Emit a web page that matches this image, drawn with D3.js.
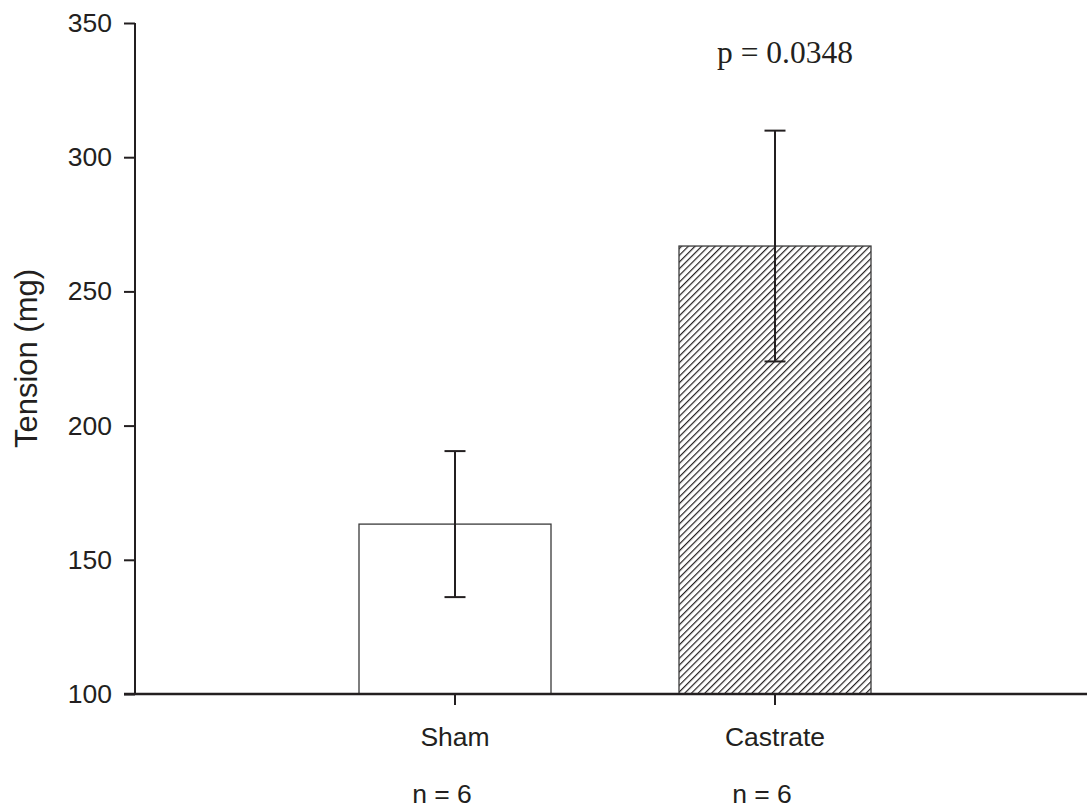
<!DOCTYPE html>
<html>
<head>
<meta charset="utf-8">
<script src="https://cdn.jsdelivr.net/npm/d3@7"></script>
<style>
html,body{margin:0;padding:0;background:#fff;}
svg{display:block;}
</style>
</head>
<body>
<svg id="chart" width="1089" height="811"></svg>
<script>
const categories = ["Sham", "Castrate"];
const means = [163.3, 266.9];
const sems = [27.2, 43.0];
const nLabels = ["n = 6", "n = 6"];
const yTicks = [100, 150, 200, 250, 300, 350];
const pText = "p = 0.0348";

const svg = d3.select("#chart");
const ink = "#231f20";

const x = d3.scaleBand().domain(categories).range([135, 1095]).paddingInner(0.4).paddingOuter(0.7);
const y = d3.scaleLinear().domain([100, 350]).range([694, 23]);

const defs = svg.append("defs");
const sp = 4.75;
const pat = defs.append("pattern").attr("id", "hatch").attr("patternUnits", "userSpaceOnUse")
  .attr("width", sp).attr("height", sp).attr("patternTransform", "rotate(45)");
pat.append("line").attr("x1", 0.6).attr("y1", 0).attr("x2", 0.6).attr("y2", sp)
  .attr("stroke", ink).attr("stroke-width", 1.2);

const fills = ["#fff", "url(#hatch)"];

// bars
svg.selectAll("rect.bar").data(categories).enter().append("rect")
  .attr("class", "bar")
  .attr("x", d => x(d))
  .attr("width", x.bandwidth())
  .attr("y", (d, i) => y(means[i]))
  .attr("height", (d, i) => y(100) - y(means[i]))
  .attr("fill", (d, i) => fills[i])
  .attr("stroke", "#3a3a3a").attr("stroke-width", 1.3);

// error bars
const eb = svg.append("g").attr("stroke", ink).attr("stroke-width", 2).attr("fill", "none");
categories.forEach((c, i) => {
  const cx = x(c) + x.bandwidth() / 2;
  eb.append("line").attr("x1", cx).attr("x2", cx).attr("y1", y(means[i] + sems[i])).attr("y2", y(means[i] - sems[i]));
  eb.append("line").attr("x1", cx - 10.5).attr("x2", cx + 10.5).attr("y1", y(means[i] + sems[i])).attr("y2", y(means[i] + sems[i]));
  eb.append("line").attr("x1", cx - 10.5).attr("x2", cx + 10.5).attr("y1", y(means[i] - sems[i])).attr("y2", y(means[i] - sems[i]));
});

// y axis
const yAxis = svg.append("g").attr("transform", "translate(135,0)")
  .call(d3.axisLeft(y).tickValues(yTicks).tickSize(11).tickPadding(12).tickFormat(d3.format("d")));
yAxis.select(".domain").attr("d", `M0,${y(350)}V${y(100)}`).attr("stroke", ink).attr("stroke-width", 2);
yAxis.selectAll(".tick line").attr("stroke", ink).attr("stroke-width", 2);
yAxis.selectAll(".tick text").attr("font-family", "Liberation Sans, Arial, sans-serif").attr("font-size", 26.5).attr("fill", ink);

// x axis
const xAxis = svg.append("g").attr("transform", `translate(0,${y(100)})`)
  .call(d3.axisBottom(x).tickSize(11).tickPadding(22));
xAxis.select(".domain").attr("d", "M124,0H1087").attr("stroke", ink).attr("stroke-width", 2.5);
xAxis.selectAll(".tick line").attr("stroke", ink).attr("stroke-width", 2);
xAxis.selectAll(".tick text").attr("font-family", "Liberation Sans, Arial, sans-serif").attr("font-size", 26.5).attr("fill", ink);

// n labels
svg.selectAll("text.nlab").data(categories).enter().append("text")
  .attr("class", "nlab")
  .attr("x", d => x(d) + x.bandwidth() / 2 - 13)
  .attr("y", 803)
  .attr("text-anchor", "middle")
  .attr("font-family", "Liberation Sans, Arial, sans-serif").attr("font-size", 26.5).attr("fill", ink)
  .text((d, i) => nLabels[i]);

// y title
svg.append("text")
  .attr("transform", `translate(37,${(y(100) + y(350)) / 2}) rotate(-90)`)
  .attr("text-anchor", "middle")
  .attr("font-family", "Liberation Sans, Arial, sans-serif").attr("font-size", 31).attr("fill", ink)
  .text("Tension (mg)");

// p value
svg.append("text")
  .attr("x", x("Castrate") + x.bandwidth() / 2 + 10)
  .attr("y", 63)
  .attr("text-anchor", "middle")
  .attr("font-family", "Liberation Serif, Times New Roman, serif").attr("font-size", 31.5).attr("fill", ink)
  .text(pText);
</script>
</body>
</html>
